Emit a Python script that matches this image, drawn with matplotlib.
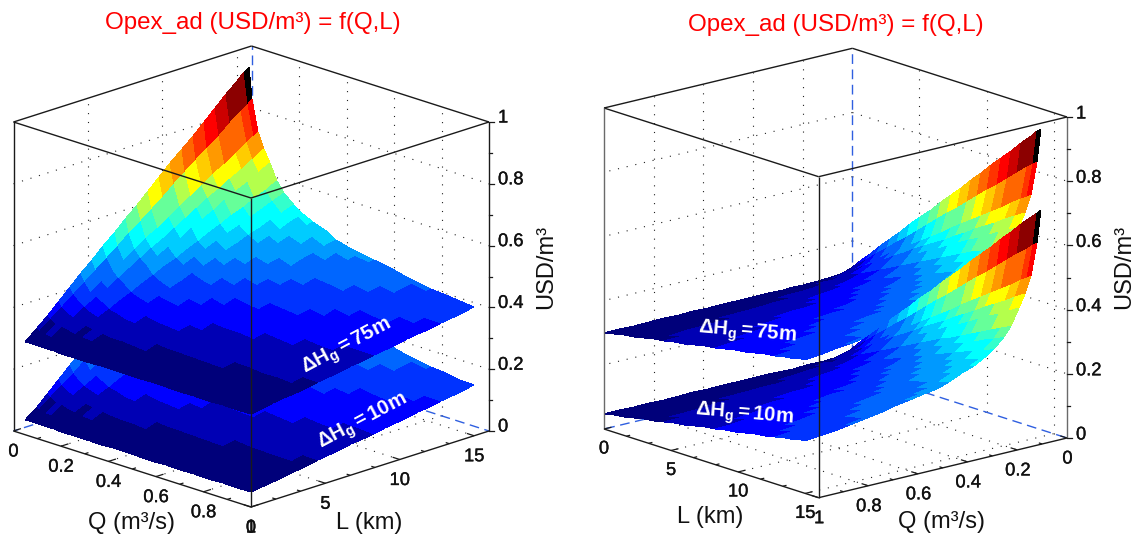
import matplotlib
matplotlib.use("Agg")
import numpy as np
import matplotlib.pyplot as plt
import matplotlib.patheffects as pe
from matplotlib.colors import ListedColormap, Normalize

plt.rcParams['font.family'] = ['Liberation Sans', 'DejaVu Sans']
plt.rcParams['mathtext.fontset'] = 'custom'
plt.rcParams['mathtext.rm'] = 'Liberation Sans'
plt.rcParams['mathtext.bf'] = 'Liberation Sans:bold'
plt.rcParams['mathtext.it'] = 'Liberation Sans:bold'

# ---------- data ----------
flow_q = [.05, .065, .09, .115, .14, .17, .20, .24, .28, .32,
          .37, .42, .47, .52, .58, .64, .70, .76, .82, .88, .94, 1.0]
length_l = [0, .75, 1.5, 2.25, 3, 3.75, 4.5, 5.25, 6, 6.75, 7.5, 8.25, 9,
            9.75, 10.5, 11.25, 12, 12.75, 13.5, 14.25, 14.7, 15]

# Opex in thousandths of USD/m3; one row per flow, one column per length
opex_75 = [
 [300,333,366,399,432,465,498,531,564,597,630,663,696,729,762,795,828,861,894,927,947,960],
 [300,328,356,384,412,440,468,496,524,552,580,608,636,664,692,720,748,776,804,832,849,860],
 [300,323,346,369,392,415,438,461,484,507,530,553,576,599,622,645,668,691,714,737,751,760],
 [300,321,341,362,382,403,423,444,464,485,505,526,546,567,587,608,628,649,669,690,702,710],
 [300,319,337,356,374,393,411,430,448,467,485,504,522,541,559,578,596,615,633,652,663,670],
 [300,316,332,348,364,380,396,412,428,444,460,476,492,508,524,540,556,572,588,604,614,620],
 [300,315,329,344,358,373,387,402,416,431,445,460,474,489,503,518,532,547,561,576,584,590],
 [300,313,326,339,352,365,378,391,404,417,430,443,456,469,482,495,508,521,534,547,555,560],
 [300,312,324,336,348,360,372,384,396,408,420,432,444,456,468,480,492,504,516,528,535,540],
 [300,311,322,334,345,356,367,378,390,401,412,423,434,446,457,468,479,490,502,513,520,524],
 [300,311,321,332,342,353,363,374,384,395,405,416,426,437,447,458,468,479,489,500,506,510],
 [300,310,319,329,338,348,358,367,377,386,396,406,415,425,434,444,454,463,473,482,488,492],
 [300,309,318,327,336,345,354,363,372,381,390,399,408,417,426,435,444,453,462,471,476,480],
 [300,309,317,326,334,343,352,360,369,377,386,395,403,412,420,429,438,446,455,463,469,472],
 [300,308,317,325,333,342,350,358,366,375,383,391,400,408,416,425,433,441,449,458,463,466],
 [300,308,316,324,332,340,347,355,363,371,379,387,395,403,411,419,426,434,442,450,455,458],
 [300,307,315,322,330,337,344,352,359,367,374,381,389,396,404,411,418,426,433,441,445,448],
 [300,307,314,321,328,335,342,349,356,363,370,377,384,391,398,405,412,419,426,433,437,440],
 [300,307,313,320,326,333,340,346,353,359,366,373,379,386,392,399,406,412,419,425,429,432],
 [300,306,313,319,325,332,338,344,350,357,363,369,376,382,388,395,401,407,413,420,424,426],
 [300,306,312,318,324,330,336,342,348,354,360,366,372,378,384,390,396,402,408,414,418,420],
 [300,306,312,317,323,329,335,341,346,352,358,364,370,375,381,387,393,399,404,410,414,416],
]
opex_10 = [
 [47,80,113,146,179,212,245,278,311,344,377,410,443,476,509,542,575,608,641,674,694,707],
 [47,75,103,131,159,187,215,243,271,299,327,355,383,411,439,467,495,523,551,579,596,607],
 [47,70,93,116,139,162,185,208,231,254,277,300,323,346,369,392,415,438,461,484,498,507],
 [47,68,88,109,129,150,170,191,211,232,252,273,293,314,334,355,375,396,416,437,449,457],
 [47,66,84,103,121,140,158,177,195,214,232,251,269,288,306,325,343,362,380,399,410,417],
 [47,63,79,95,111,127,143,159,175,191,207,223,239,255,271,287,303,319,335,351,361,367],
 [47,62,76,91,105,120,134,149,163,178,192,207,221,236,250,265,279,294,308,323,331,337],
 [47,60,73,86,99,112,125,138,151,164,177,190,203,216,229,242,255,268,281,294,302,307],
 [47,59,71,83,95,107,119,131,143,155,167,179,191,203,215,227,239,251,263,275,282,287],
 [47,58,69,81,92,103,114,125,137,148,159,170,181,193,204,215,226,237,249,260,267,271],
 [47,58,68,79,89,100,110,121,131,142,152,163,173,184,194,205,215,226,236,247,253,257],
 [47,57,66,76,85,95,105,114,124,133,143,153,162,172,181,191,201,210,220,229,235,239],
 [47,56,65,74,83,92,101,110,119,128,137,146,155,164,173,182,191,200,209,218,223,227],
 [47,56,64,73,81,90,99,107,116,124,133,142,150,159,167,176,185,193,202,210,216,219],
 [47,55,64,72,80,89,97,105,113,122,130,138,147,155,163,172,180,188,196,205,210,213],
 [47,55,63,71,79,87,94,102,110,118,126,134,142,150,158,166,173,181,189,197,202,205],
 [47,54,62,69,77,84,91,99,106,114,121,128,136,143,151,158,165,173,180,188,192,195],
 [47,54,61,68,75,82,89,96,103,110,117,124,131,138,145,152,159,166,173,180,184,187],
 [47,54,60,67,73,80,87,93,100,106,113,120,126,133,139,146,153,159,166,172,176,179],
 [47,53,60,66,72,79,85,91,97,104,110,116,123,129,135,142,148,154,160,167,171,173],
 [47,53,59,65,71,77,83,89,95,101,107,113,119,125,131,137,143,149,155,161,165,167],
 [47,53,59,64,70,76,82,88,93,99,105,111,117,122,128,134,140,146,151,157,161,163],
]

q_ticks = [0, .2, .4, .6, .8, 1]
q_tick_labels = ['0', '0.2', '0.4', '0.6', '0.8', '1']
q_minor = [.1, .3, .5, .7, .9]
l_ticks = [0, 5, 10, 15]
l_tick_labels = ['0', '5', '10', '15']
l_minor = [1.67, 3.33, 6.67, 8.33, 11.67, 13.33]
z_ticks = [0, .2, .4, .6, .8, 1]
z_tick_labels = ['0', '0.2', '0.4', '0.6', '0.8', '1']
z_minor = [.1, .3, .5, .7, .9]
L_MAX = 16

band_colors = ['#00007a', '#0000b4', '#0000ff', '#0033ff', '#0066ff', '#0099ff',
               '#00ccff', '#00ffff', '#33ffcc', '#66ff99', '#b4ff4c', '#ffff00',
               '#ffcc00', '#ff9900', '#ff6600', '#ff3300', '#ff0000', '#cc0000',
               '#8c0000', '#000000']
cmap = ListedColormap(band_colors)

fig = plt.figure(figsize=(11.35, 5.36), dpi=100)
ax = fig.add_axes([0, 0, 1, 1])
ax.set_xlim(0, 1135)
ax.set_ylim(536, 0)
ax.axis('off')

BLUE = '#2f5fe0'
DOT = (0, (1, 7))
DASH = (0, (7, 4))


class View:
    """Linear projection of (Q, L, z) onto the picture."""
    def __init__(self, p00, vq, vl, h):
        self.p, self.vq, self.vl, self.h = map(np.asarray, (p00, vq, vl, h))

    def __call__(self, q, l, z=0):
        q, l, z = np.asarray(q, float), np.asarray(l, float), np.asarray(z, float)
        x = self.p[0] + q * self.vq[0] + l / L_MAX * self.vl[0]
        y = self.p[1] + q * self.vq[1] + l / L_MAX * self.vl[1] - z * self.h
        return x, y


def seg(ax, view, a, b, **kw):
    xa, ya = view(*a)
    xb, yb = view(*b)
    ax.plot([xa, xb], [ya, yb], solid_capstyle='butt', **kw)


def surface(ax, view, table, zorder):
    z = np.array(table) / 1000.0
    qq, ll = np.meshgrid(flow_q, length_l, indexing='ij')
    x, y = view(qq, ll, z)
    lo, hi = z[:-1, :-1], z[:-1, 1:]
    # the flat colour of a cell is sampled part-way along it; the sample point
    # alternates from row to row, which gives the reference's saw-tooth bands
    f = np.full(lo.shape[0], 0.5)
    f[1::2] = 0.35
    f[1:6:2] = 0.0
    c = lo + f[:, None] * (hi - lo)
    span = z.max() - z.min()
    ax.pcolormesh(x, y, c, shading='flat', cmap=cmap,
                  norm=Normalize(z.min(), z.min() + span * 1.023), antialiased=False,
                  linewidth=0, zorder=zorder)


def box(ax, view, back_q, back_l, front_q, front_l, side_col):
    g = dict(color='#222222', lw=0.8, ls=DOT, zorder=1)
    for q in q_ticks[1:-1]:
        seg(ax, view, (q, 0, 0), (q, L_MAX, 0), **g)
        seg(ax, view, (q, back_l, 0), (q, back_l, 1), **g)
    for l in l_ticks[1:]:
        seg(ax, view, (0, l, 0), (1, l, 0), **g)
        seg(ax, view, (back_q, l, 0), (back_q, l, 1), **g)
    for z in z_ticks[1:-1]:
        seg(ax, view, (back_q, 0, z), (back_q, L_MAX, z), **g)
        seg(ax, view, (0, back_l, z), (1, back_l, z), **g)
    d = dict(color=BLUE, lw=1.0, ls=DASH, zorder=1.5)
    seg(ax, view, (back_q, back_l, 0), (back_q, back_l, 1), **d)
    seg(ax, view, (back_q, back_l, 0), (front_q, back_l, 0), **d)
    seg(ax, view, (back_q, back_l, 0), (back_q, front_l, 0), **d)
    s = dict(color='#1a1a1a', lw=1.0, zorder=6)
    seg(ax, view, (front_q, front_l, 0), (back_q, front_l, 0), **s)
    seg(ax, view, (front_q, front_l, 0), (front_q, back_l, 0), **s)
    seg(ax, view, (front_q, front_l, 0), (front_q, front_l, 1), **s)
    seg(ax, view, (front_q, front_l, 1), (back_q, front_l, 1), **s)
    seg(ax, view, (front_q, front_l, 1), (front_q, back_l, 1), **s)
    seg(ax, view, (back_q, back_l, 1), (back_q, front_l, 1), **s)
    seg(ax, view, (back_q, back_l, 1), (front_q, back_l, 1), **s)
    side = dict(color=side_col, lw=1.0, zorder=6)
    seg(ax, view, (back_q, front_l, 0), (back_q, front_l, 1), **side)
    seg(ax, view, (front_q, back_l, 0), (front_q, back_l, 1), **side)


def ticks(ax, view, q_edge_l, l_edge_q, z_q, z_l, ldir_sign, qdir_sign):
    t = dict(color='#1a1a1a', lw=0.9, zorder=6)
    for q in q_ticks:
        seg(ax, view, (q, q_edge_l, 0), (q, q_edge_l + ldir_sign * 0.5, 0), **t)
    for q in q_minor:
        seg(ax, view, (q, q_edge_l, 0), (q, q_edge_l + ldir_sign * 0.25, 0), **t)
    for l in l_ticks:
        seg(ax, view, (l_edge_q, l, 0), (l_edge_q + qdir_sign * 0.03, l, 0), **t)
    for l in l_minor:
        seg(ax, view, (l_edge_q, l, 0), (l_edge_q + qdir_sign * 0.015, l, 0), **t)
    x0, _ = view(z_q, z_l, 0)
    for z in z_ticks:
        _, y = view(z_q, z_l, z)
        ax.plot([x0, x0 + 5], [y, y], **t)
    for z in z_minor:
        _, y = view(z_q, z_l, z)
        ax.plot([x0, x0 + 2.5], [y, y], **t)


TICK_FS = 13.2
LAB_FS = 17
heavy = [pe.withStroke(linewidth=0.25, foreground='#111111')]
tk = dict(fontsize=TICK_FS, color='#111111', ha='center', va='center', zorder=7,
          path_effects=heavy)
lab = dict(fontsize=LAB_FS, color='#111111', ha='center', va='center', zorder=7)
ttl = dict(fontsize=17.4, color='#ff0000', ha='center', va='center', zorder=7)
ann = dict(fontsize=14.6, color='white', ha='center', va='center', zorder=8)
TITLE = 'Opex_ad (USD/m³) = f(Q,L)'
TXT75 = r'$\mathbf{\Delta H_g{=}75m}$'
TXT10 = r'$\mathbf{\Delta H_g{=}10m}$'

# ---------- left panel ----------
left = View((13.5, 431), (237.5, 76), (238, -76), 309)
box(ax, left, 0, L_MAX, 1, 0, '#1a1a1a')
surface(ax, left, opex_10, 2)
surface(ax, left, opex_75, 3)
ticks(ax, left, 0, 1, 1, L_MAX, 1, -1)
for q, s in zip(q_ticks, q_tick_labels):
    x, y = left(q, 0)
    ax.text(x, y + 21, s, **tk)
for l, s in zip(l_ticks, l_tick_labels):
    x, y = left(1, l)
    ax.text(x, y + 21, s, **tk)
for z, s in zip(z_ticks, z_tick_labels):
    x, y = left(1, L_MAX, z)
    ax.text(498, y - 4, s, **{**tk, 'ha': 'left'})
ax.text(252.5, 23, TITLE, **ttl)
ax.text(132, 523, 'Q (m³/s)', **lab)
ax.text(369, 523, 'L (km)', **lab)
ax.text(546, 267, 'USD/m³', rotation=90, **lab)
ax.text(347, 347, TXT75, rotation=28, **ann)
ax.text(363, 421.5, TXT10, rotation=28, **ann)

# ---------- right panel ----------
right = View((852.4, 369.3), (-248.4, 59.7), (214.6, 68.7), 321)
box(ax, right, 0, 0, 1, L_MAX, '#6a6a6a')
surface(ax, right, opex_75, 2)
surface(ax, right, opex_10, 3)
ticks(ax, right, L_MAX, 1, 0, L_MAX, -1, -1)
for q, s in zip(q_ticks, q_tick_labels):
    x, y = right(q, L_MAX)
    ax.text(x + 0.5, y + 21, s, **tk)
for l, s in zip(l_ticks, l_tick_labels):
    x, y = right(1, l)
    ax.text(x, y + 20, s, **tk)
for z, s in zip(z_ticks, z_tick_labels):
    x, y = right(0, L_MAX, z)
    ax.text(1076, y - 3, s, **{**tk, 'ha': 'left'})
ax.text(836, 25, TITLE, **ttl)
ax.text(710, 517, 'L (km)', **lab)
ax.text(942, 522, 'Q (m³/s)', **lab)
ax.text(1124, 267, 'USD/m³', rotation=90, **lab)
ax.text(747.5, 333, TXT75, rotation=-5, **ann)
ax.text(744, 415.5, TXT10, rotation=-5, **ann)

fig.savefig('out.png', dpi=100)
